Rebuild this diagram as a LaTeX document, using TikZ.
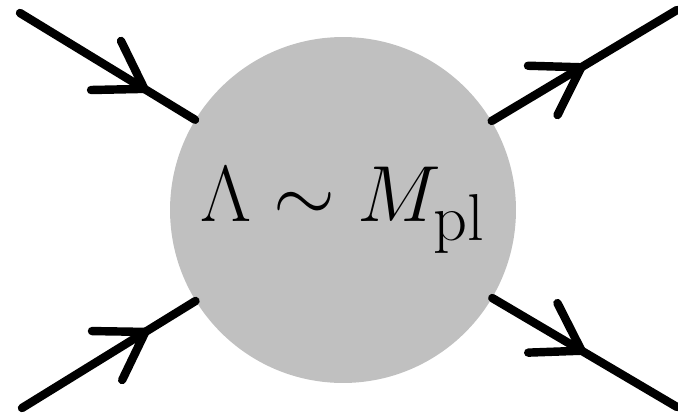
\documentclass[tikz,border=0pt]{standalone}
\usepackage{amsmath}
\usetikzlibrary{arrows.meta, decorations.markings}
\definecolor{BlobGray}{RGB}{192, 192, 192}

\tikzset{
    leg/.style={line width=4.8pt, line cap=round, black},
    inleg/.style={leg, decoration={markings, mark=at position 0.75 with {\arrow{Straight Barb[length=0.9cm, width=1.15cm, line cap=round]}}}, postaction={decorate}},
    outleg/.style={leg, decoration={markings, mark=at position 0.52 with {\arrow{Straight Barb[length=0.9cm, width=1.15cm, line cap=round]}}}, postaction={decorate}}
}

\begin{document}
\begin{tikzpicture}[x=0.02cm, y=-0.02cm]
    \useasboundingbox (0,0) rectangle (678,415);
    \node[circle, fill=BlobGray, minimum size=6.92cm, inner sep=0pt] (blob) at (343,210) {};
    \node[scale=1.82] (label) at (blob.center) {\fontsize{24.88}{30}\selectfont $\Lambda \sim M_{\mathrm{pl}}$};

    \coordinate (inA) at (20,13);
    \coordinate (inB) at (22,408);
    \coordinate (outA) at (677,10);
    \coordinate (outB) at (677,407);

    \draw[inleg] (inA) -- (blob);
    \draw[inleg] (inB) -- (blob);
    \draw[outleg] (blob) -- (outA);
    \draw[outleg] (blob) -- (outB);
\end{tikzpicture}
\end{document}
